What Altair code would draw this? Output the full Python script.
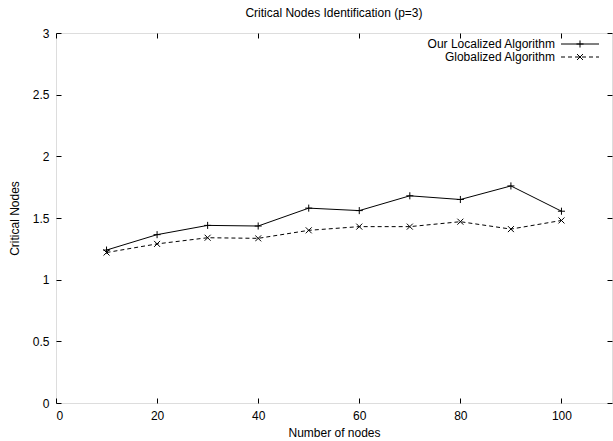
import altair as alt
import pandas as pd

nodes = [10, 20, 30, 40, 50, 60, 70, 80, 90, 100]
localized = [1.24, 1.365, 1.44, 1.435, 1.58, 1.56, 1.68, 1.65, 1.76, 1.555]
globalized = [1.22, 1.29, 1.34, 1.335, 1.40, 1.43, 1.43, 1.47, 1.41, 1.48]
series_names = ["Our Localized Algorithm", "Globalized Algorithm"]
x_ticks = [0, 20, 40, 60, 80, 100]
y_ticks = [0, 0.5, 1, 1.5, 2, 2.5, 3]

FONT = "Liberation Sans"
FS = 12
PLUS = "M-1,0H1M0,-1V1"
CROSS = "M-1,-1L1,1M-1,1L1,-1"

df_l = pd.DataFrame({"nodes": nodes, "value": localized})
df_g = pd.DataFrame({"nodes": nodes, "value": globalized})

xs = alt.Scale(domain=[0, 110], nice=False, zero=False)
ys = alt.Scale(domain=[0, 3], nice=False)

ax_common = dict(grid=False, domain=False, offset=-5, tickSize=5, tickColor="black",
                 tickWidth=1, labelFont=FONT, labelFontSize=FS, labelColor="black",
                 titleFont=FONT, titleFontSize=FS, titleColor="black", titleFontWeight="normal")

x_bottom = alt.Axis(orient="bottom", values=x_ticks, format="d", labelPadding=7,
                    title="Number of nodes", titlePadding=6, **ax_common)
y_left = alt.Axis(orient="left", values=y_ticks, format="~g", labelPadding=7,
                  title="Critical Nodes", titlePadding=11, **ax_common)
x_top = alt.Axis(orient="top", values=x_ticks, labels=False, title=None, **ax_common)
y_right = alt.Axis(orient="right", values=y_ticks, labels=False, title=None, **ax_common)

line_l = alt.Chart(df_l).mark_line(color="black", strokeWidth=1).encode(
    x=alt.X("nodes:Q", scale=xs, axis=x_bottom),
    y=alt.Y("value:Q", scale=ys, axis=y_left),
)
pts_l = alt.Chart(df_l).mark_point(shape=PLUS, size=50, filled=False, color="black", strokeWidth=1, opacity=1).encode(
    x=alt.X("nodes:Q", scale=xs, axis=None),
    y=alt.Y("value:Q", scale=ys, axis=None),
)
line_g = alt.Chart(df_g).mark_line(color="black", strokeWidth=1, strokeDash=[4, 3]).encode(
    x=alt.X("nodes:Q", scale=xs, axis=x_top),
    y=alt.Y("value:Q", scale=ys, axis=y_right),
)
pts_g = alt.Chart(df_g).mark_point(shape=CROSS, size=36, filled=False, color="black", strokeWidth=1, opacity=1).encode(
    x=alt.X("nodes:Q", scale=xs, axis=None),
    y=alt.Y("value:Q", scale=ys, axis=None),
)

# legend (top-right inside the plot)
leg1 = pd.DataFrame({"label": [series_names[0]]})
leg2 = pd.DataFrame({"label": [series_names[1]]})
LX_TEXT, LX0, LX1, LXM = 499, 505, 543, 524
LY1, LY2 = 11, 24

legend_layers = []
for d, ly, shape, size, dash in [(leg1, LY1, PLUS, 50, None), (leg2, LY2, CROSS, 36, [4, 3])]:
    legend_layers.append(alt.Chart(d).mark_text(align="right", baseline="middle", font=FONT,
                                                fontSize=FS, color="black").encode(
        x=alt.value(LX_TEXT), y=alt.value(ly), text="label:N"))
    rule_kw = dict(color="black", strokeWidth=1)
    if dash:
        rule_kw["strokeDash"] = dash
    legend_layers.append(alt.Chart(d).mark_rule(**rule_kw).encode(
        x=alt.value(LX0), x2=alt.value(LX1), y=alt.value(ly)))
    legend_layers.append(alt.Chart(d).mark_point(shape=shape, size=size, filled=False, color="black",
                                                 strokeWidth=1, opacity=1).encode(
        x=alt.value(LXM), y=alt.value(ly)))

chart = alt.layer(line_l, pts_l, line_g, pts_g, *legend_layers).resolve_axis(
    x="independent", y="independent"
).properties(
    width=556, height=370,
    autosize=alt.AutoSizeParams(type="none"),
    padding={"left": 56, "top": 33, "right": 1, "bottom": 38},
    title=alt.TitleParams("Critical Nodes Identification (p=3)", font=FONT, fontSize=FS,
                          fontWeight="normal", color="black", anchor="middle", offset=7),
).configure_view(stroke="black", strokeWidth=1).configure(background="white")

chart.save("out.html", embed_options={"renderer": "svg", "actions": False})
